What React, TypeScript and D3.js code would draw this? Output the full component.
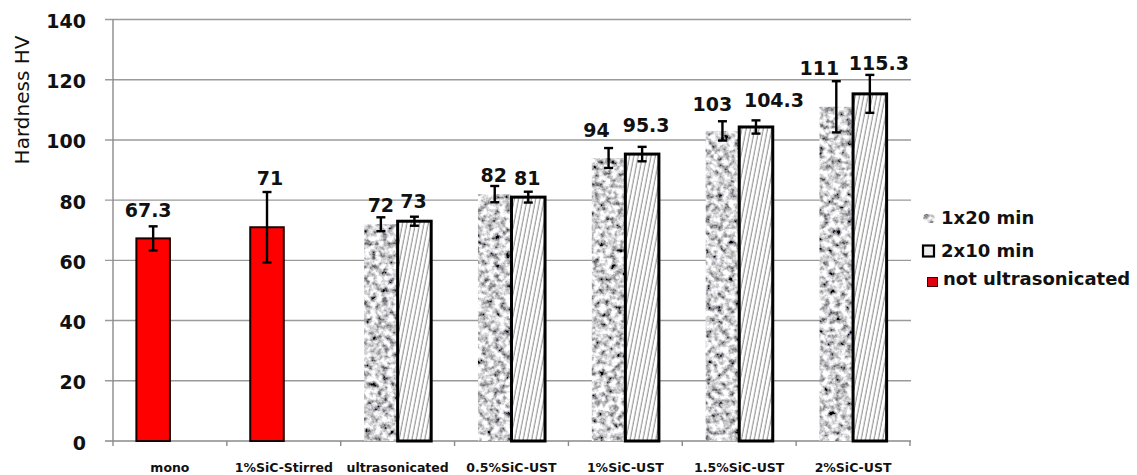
import React, { useEffect, useRef } from "react"
import * as d3 from "d3"

const categories = [
	"mono",
	"1%SiC-Stirred",
	"ultrasonicated",
	"0.5%SiC-UST",
	"1%SiC-UST",
	"1.5%SiC-UST",
	"2%SiC-UST",
]

// hardness values (HV) and error bar half-widths
const notUltrasonicated = [67.3, 71, null, null, null, null, null]
const notUltrasonicatedErr = [4, 11.7, null, null, null, null, null]
const oneX20 = [null, null, 72, 82, 94, 103, 111]
const oneX20Err = [null, null, 2.3, 2.7, 3.3, 3.2, 8.5]
const twoX10 = [null, null, 73, 81, 95.3, 104.3, 115.3]
const twoX10Err = [null, null, 1.5, 1.8, 2.4, 2.2, 6.3]

const yTicks = [0, 20, 40, 60, 80, 100, 120, 140]

const legendItems = ["1x20 min", "2x10 min", "not ultrasonicated"]

// hand-placed data label nudges (px), like in the original sheet
const labelDx: Record<string, number[]> = {
	red: [-5, 3, 0, 0, 0, 0, 0],
	a: [0, 0, 0, -1, -12, -10, -17],
	b: [0, 0, -1, -1, 4, 18, 9],
}
const labelGap: Record<string, number[]> = {
	red: [9, 7, 0, 0, 0, 0, 0],
	a: [0, 0, 5, 4, 11, 10, 6],
	b: [0, 0, 9, 7, 15, 13, 5],
}

const W = 1137
const H = 475
const margin = { top: 19.5, left: 113, right: 227, bottom: 34 }
const FONT = "'DejaVu Sans', Verdana, sans-serif"

const App: React.FC = () => {
	const ref = useRef<SVGSVGElement>(null)

	useEffect(() => {
		const svg = d3.select(ref.current)
		svg.selectAll("*").remove()

		const x0 = d3
			.scaleBand()
			.domain(categories)
			.range([margin.left, W - margin.right])
		const x1 = d3
			.scaleBand()
			.domain(["a", "b"])
			.range([0, x0.bandwidth()])
			.paddingOuter(0.697)
		const y = d3
			.scaleLinear()
			.domain([0, 140])
			.range([H - margin.bottom, margin.top])

		const defs = svg.append("defs")
		const granite = defs
			.append("filter")
			.attr("id", "granite")
			.attr("x", 0)
			.attr("y", 0)
			.attr("width", 1)
			.attr("height", 1)
		granite
			.append("feTurbulence")
			.attr("type", "fractalNoise")
			.attr("baseFrequency", 0.17)
			.attr("numOctaves", 3)
			.attr("seed", 7)
		granite
			.append("feColorMatrix")
			.attr("type", "matrix")
			.attr(
				"values",
				"2.2 0 0 0 -0.45  2.2 0 0 0 -0.45  2.2 0 0 0 -0.43  0 0 0 0 1"
			)
		granite
			.append("feComposite")
			.attr("in2", "SourceGraphic")
			.attr("operator", "in")

		const hatch = defs
			.append("pattern")
			.attr("id", "hatch")
			.attr("patternUnits", "userSpaceOnUse")
			.attr("width", 4.2)
			.attr("height", 10)
			.attr("patternTransform", "rotate(11)")
		hatch.append("rect").attr("width", 4.2).attr("height", 10).attr("fill", "#fff")
		hatch
			.append("line")
			.attr("x1", 1)
			.attr("x2", 1)
			.attr("y1", 0)
			.attr("y2", 10)
			.attr("stroke", "#444")
			.attr("stroke-width", 0.7)

		// gridlines
		const grid = svg.append("g")
		grid
			.selectAll("line")
			.data(yTicks)
			.join("line")
			.attr("x1", margin.left - 8)
			.attr("x2", W - margin.right + 1)
			.attr("y1", (d) => y(d))
			.attr("y2", (d) => y(d))
			.attr("stroke", (d) => (d === 0 ? "#8a8a8a" : "#9a9a9a"))
			.attr("stroke-width", 1.4)

		svg
			.append("line")
			.attr("x1", margin.left)
			.attr("x2", margin.left)
			.attr("y1", y(140))
			.attr("y2", y(0))
			.attr("stroke", "#8a8a8a")
			.attr("stroke-width", 1.4)

		// x ticks at category boundaries
		const bounds = categories.map((c) => x0(c)!).concat([W - margin.right])
		svg
			.append("g")
			.selectAll("line")
			.data(bounds)
			.join("line")
			.attr("x1", (d) => d)
			.attr("x2", (d) => d)
			.attr("y1", y(0))
			.attr("y2", y(0) + 5)
			.attr("stroke", "#8a8a8a")
			.attr("stroke-width", 1.4)

		svg
			.append("g")
			.selectAll("text")
			.data(yTicks)
			.join("text")
			.attr("x", 86)
			.attr("y", (d) => y(d))
			.attr("dy", "0.45em")
			.attr("text-anchor", "end")
			.attr("font-family", FONT)
			.attr("font-weight", "bold")
			.attr("font-size", 19)
			.attr("fill", "#111")
			.text((d) => d)

		svg
			.append("text")
			.attr("transform", `translate(28.5,${(33 + 167) / 2}) rotate(-90)`)
			.attr("text-anchor", "middle")
			.attr("font-family", FONT)
			.attr("font-size", 20)
			.attr("fill", "#111")
			.text("Hardness HV")

		svg
			.append("g")
			.selectAll("text")
			.data(categories)
			.join("text")
			.attr("x", (d) => x0(d)! + x0.bandwidth() / 2)
			.attr("y", 472)
			.attr("text-anchor", "middle")
			.attr("font-family", FONT)
			.attr("font-weight", "bold")
			.attr("font-size", 12.5)
			.attr("fill", "#111")
			.text((d) => d)

		type Pt = { i: number; v: number; e: number }
		const pts = (vals: (number | null)[], errs: (number | null)[]): Pt[] =>
			vals
				.map((v, i) => ({ i, v: v as number, e: (errs[i] ?? 0) as number }))
				.filter((p) => vals[p.i] != null)

		const series = [
			{ key: "red", slot: "a", data: pts(notUltrasonicated, notUltrasonicatedErr) },
			{ key: "a", slot: "a", data: pts(oneX20, oneX20Err) },
			{ key: "b", slot: "b", data: pts(twoX10, twoX10Err) },
		]

		const bars = svg.append("g")
		series.forEach((s) => {
			const g = bars.append("g")
			const rects = g
				.selectAll("rect")
				.data(s.data)
				.join("rect")
				.attr("x", (d) => x0(categories[d.i])! + x1(s.slot)!)
				.attr("width", x1.bandwidth())
				.attr("y", (d) => y(d.v))
				.attr("height", (d) => y(0) - y(d.v))
			if (s.key === "red") {
				rects.attr("fill", "#ff0000").attr("stroke", "#1a0000").attr("stroke-width", 2)
			} else if (s.key === "a") {
				rects.attr("fill", "#ccc").attr("filter", "url(#granite)")
			} else {
				rects.attr("fill", "url(#hatch)").attr("stroke", "#000").attr("stroke-width", 3)
			}
		})

		// error bars and labels
		const over = svg.append("g")
		series.forEach((s) => {
			s.data.forEach((d) => {
				const cx = x0(categories[d.i])! + x1(s.slot)! + x1.bandwidth() / 2
				const eg = over.append("g").attr("stroke", "#000").attr("stroke-width", 2.4)
				eg.append("line")
					.attr("x1", cx)
					.attr("x2", cx)
					.attr("y1", y(d.v - d.e))
					.attr("y2", y(d.v + d.e))
				;[d.v - d.e, d.v + d.e].forEach((t) => {
					eg.append("line")
						.attr("x1", cx - 4.5)
						.attr("x2", cx + 4.5)
						.attr("y1", y(t))
						.attr("y2", y(t))
				})
				over
					.append("text")
					.attr("x", cx + labelDx[s.key][d.i])
					.attr("y", y(d.v + d.e) - labelGap[s.key][d.i])
					.attr("text-anchor", "middle")
					.attr("font-family", FONT)
					.attr("font-weight", "bold")
					.attr("font-size", 19)
					.attr("fill", "#111")
					.text(d.v)
			})
		})

		// legend
		const lg = svg.append("g")
		const rowY = [224, 257, 285]
		lg.append("rect")
			.attr("x", 923)
			.attr("y", 214)
			.attr("width", 12)
			.attr("height", 9)
			.attr("rx", 4)
			.attr("fill", "#ccc")
			.attr("filter", "url(#granite)")
		lg.append("rect")
			.attr("x", 923)
			.attr("y", 245.5)
			.attr("width", 11)
			.attr("height", 11)
			.attr("fill", "#eee")
			.attr("stroke", "#000")
			.attr("stroke-width", 2.2)
		lg.append("rect")
			.attr("x", 927.5)
			.attr("y", 277.5)
			.attr("width", 10)
			.attr("height", 9)
			.attr("fill", "#e00010")
			.attr("stroke", "#400")
			.attr("stroke-width", 1)
		lg.selectAll("text")
			.data(legendItems)
			.join("text")
			.attr("x", (d, i) => (i === 2 ? 943 : 941))
			.attr("y", (d, i) => rowY[i])
			.attr("font-family", FONT)
			.attr("font-weight", "bold")
			.attr("font-size", 18)
			.attr("fill", "#111")
			.text((d) => d)
	}, [])

	return (
		<svg
			ref={ref}
			width={W}
			height={H}
			style={{ position: "absolute", left: 0, top: 0, background: "#fff" }}
		/>
	)
}

export default App
